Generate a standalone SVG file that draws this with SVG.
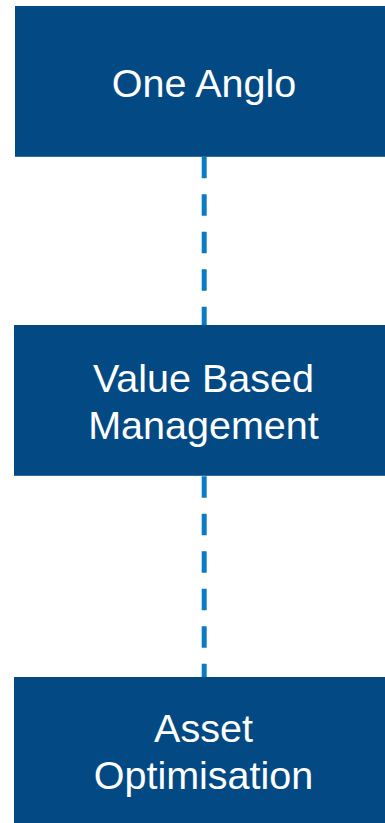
<svg xmlns="http://www.w3.org/2000/svg" width="385" height="823" viewBox="0 0 385 823">
  <style>
    .box { fill: #034a85; }
    .label { fill: #ffffff; font-family: "Liberation Sans", Arial, sans-serif; font-size: 39.5px; text-anchor: middle; }
    .link { stroke: #0a7cc3; stroke-width: 5; stroke-dasharray: 21.5 16; fill: none; }
  </style>
  <rect width="385" height="823" fill="#ffffff"/>
  <g id="connectors">
    <line class="link" x1="204.2" y1="156.8" x2="204.2" y2="325"/>
    <line class="link" x1="204.2" y1="476.2" x2="204.2" y2="677"/>
  </g>
  <g id="one-anglo">
    <rect class="box" x="15" y="6" width="380" height="150.8"/>
    <text class="label" x="204" y="96.7">One Anglo</text>
  </g>
  <g id="value-based-management">
    <rect class="box" x="14" y="325" width="381" height="150.8"/>
    <text class="label" x="203.5" y="391.7">Value Based</text>
    <text class="label" x="203.5" y="438.5">Management</text>
  </g>
  <g id="asset-optimisation">
    <rect class="box" x="14" y="677" width="381" height="150"/>
    <text class="label" x="203.5" y="741.7">Asset</text>
    <text class="label" x="203.5" y="789">Optimisation</text>
  </g>
</svg>
